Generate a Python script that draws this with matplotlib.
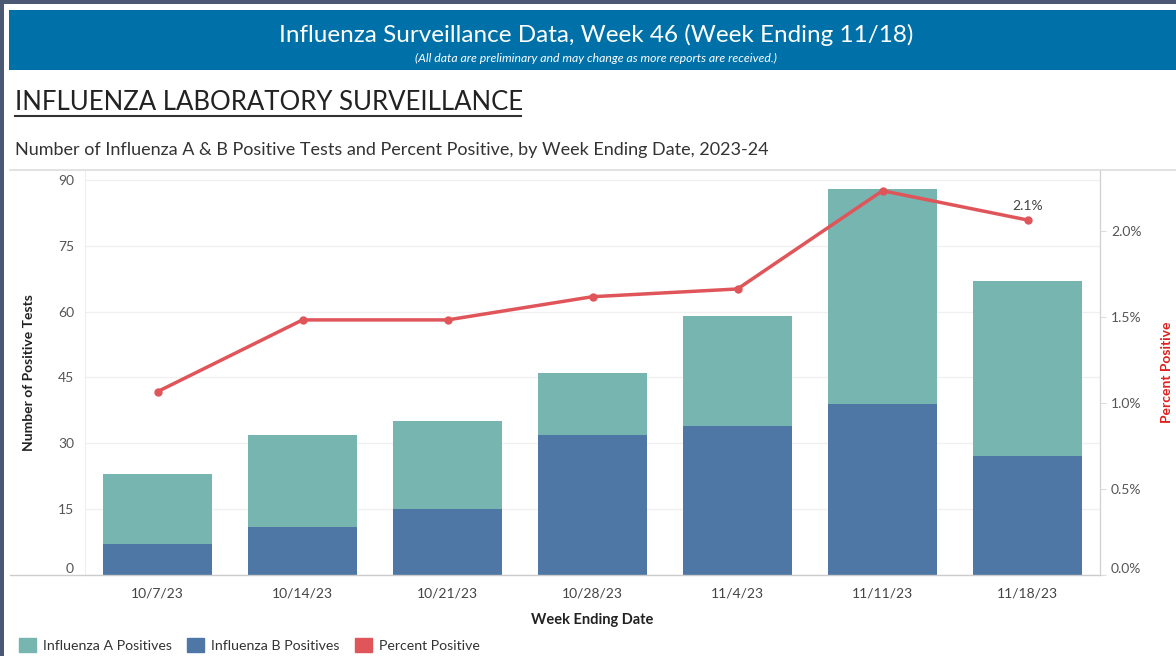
import numpy as np
import matplotlib
matplotlib.use("Agg")
import matplotlib.pyplot as plt
from matplotlib.patches import Rectangle, Patch
from matplotlib.lines import Line2D
from matplotlib.ticker import FuncFormatter, MultipleLocator

plt.rcParams['font.family'] = ['Lato', 'DejaVu Sans']

# data
weeks = ["10/7/23", "10/14/23", "10/21/23", "10/28/23", "11/4/23", "11/11/23", "11/18/23"]
flu_b = [7, 11, 15, 32, 34, 39, 27]
flu_a = [16, 21, 20, 14, 25, 49, 40]
pct_pos = [1.066, 1.483, 1.483, 1.618, 1.663, 2.234, 2.064]
last_label = "2.1%"
count_ticks = [0, 15, 30, 45, 60, 75, 90]
pct_ticks = [0.0, 0.5, 1.0, 1.5, 2.0]

teal = "#76b5b0"
blue = "#4e77a5"
red = "#e05559"
dark = "#4b5873"
banner = "#0071a8"

W, H = 1176, 656
fig = plt.figure(figsize=(W / 100, H / 100), dpi=100, facecolor=dark)

def fx(px):
    return px / W

def fy(py):
    return 1 - py / H

# white page with a thin dark frame top/left
fig.patches.append(Rectangle((fx(4), 0), 1, fy(4), transform=fig.transFigure,
                             facecolor="white", edgecolor="none", zorder=-2))
# blue banner
fig.patches.append(Rectangle((fx(9), fy(70)), 1, 60 / H, transform=fig.transFigure,
                             facecolor=banner, edgecolor="none", zorder=-1))
fig.text(fx(596), fy(35), "Influenza Surveillance Data, Week 46 (Week Ending 11/18)",
         color="white", fontsize=17.5, ha="center", va="center")
fig.text(fx(596), fy(58), "(All data are preliminary and may change as more reports are received.)",
         color="white", fontsize=8.8, style="italic", ha="center", va="center")

fig.text(fx(15), fy(103), "INFLUENZA LABORATORY SURVEILLANCE", color="#222222",
         fontsize=18.5, ha="left", va="center")
fig.lines.append(Line2D([fx(15), fx(521)], [fy(116), fy(116)], transform=fig.transFigure,
                        color="#333333", lw=1.5))
fig.text(fx(15), fy(150),
         "Number of Influenza A & B Positive Tests and Percent Positive, by Week Ending Date, 2023-24",
         color="#333333", fontsize=13, ha="left", va="center")

# frame lines of the chart area
fig.lines.append(Line2D([fx(10), 1], [fy(170), fy(170)], transform=fig.transFigure,
                        color="#dddddd", lw=1.2))
fig.lines.append(Line2D([fx(10), fx(1100)], [fy(575), fy(575)], transform=fig.transFigure,
                        color="#cccccc", lw=1.0, zorder=5))

ax = fig.add_axes([fx(85), fy(575), fx(1100) - fx(85), (575 - 170) / H])
ax.set_facecolor("none")
x = np.arange(len(weeks))
ax.bar(x, flu_b, width=0.75, color=blue, label="Influenza B Positives", zorder=2)
ax.bar(x, flu_a, width=0.75, bottom=flu_b, color=teal, label="Influenza A Positives", zorder=2)

ax.set_xlim(-0.5, len(weeks) - 0.5)
ax.set_ylim(0, 90 + 10 / 4.389)
ax.set_yticks(count_ticks)
ax.grid(axis="y", color="#f0f0f0", lw=1, zorder=0)
ax.set_axisbelow(True)
ax.set_xticks(x)
ax.set_xticklabels(weeks)
ax.tick_params(axis="x", length=0, pad=9, labelsize=10, labelcolor="#444444")
ax.tick_params(axis="y", length=0, pad=8, labelsize=10, labelcolor="#555555")
ax.get_yticklabels()[0].set_verticalalignment("bottom")
for s in ["top", "bottom"]:
    ax.spines[s].set_visible(False)
ax.spines["left"].set_color("#eeeeee")
ax.spines["right"].set_color("#d0d0d0")
ax.set_ylabel("Number of Positive Tests", fontsize=10, fontweight="bold", color="#222222", labelpad=16)
ax.set_xlabel("Week Ending Date", fontsize=10.5, fontweight="bold", color="#222222", labelpad=10)

ax2 = ax.twinx()
ax2.plot(x, pct_pos, color=red, lw=2.5, marker="o", markersize=5, zorder=3)
ax2.set_ylim(0, 405 / 172)
ax2.set_yticks(pct_ticks)
ax2.yaxis.set_major_formatter(FuncFormatter(lambda v, p: "%.1f%%" % v))
ax2.tick_params(axis="y", length=4, color="#dddddd", pad=4, labelsize=10, labelcolor="#555555")
ax2.get_yticklabels()[0].set_verticalalignment("bottom")
for s in ["top", "bottom", "left"]:
    ax2.spines[s].set_visible(False)
ax2.spines["right"].set_color("#d0d0d0")
ax2.set_ylabel("Percent Positive", fontsize=10, fontweight="bold", color="#e0201c", labelpad=14)
ax2.annotate(last_label, (x[-1], pct_pos[-1]), xytext=(0, 10), textcoords="offset points",
             ha="center", va="center", fontsize=10, color="#444444")

handles = [Patch(color=teal), Patch(color=blue), Patch(color=red)]
labels = ["Influenza A Positives", "Influenza B Positives", "Percent Positive"]
fig.legend(handles, labels, loc="lower left", bbox_to_anchor=(fx(6), -0.014), ncol=3,
           frameon=False, handlelength=1.2, handleheight=1.2, handletextpad=0.5,
           columnspacing=1.1, fontsize=10.2, labelcolor="#333333")

fig.savefig("out.png", dpi=100, facecolor=fig.get_facecolor())
